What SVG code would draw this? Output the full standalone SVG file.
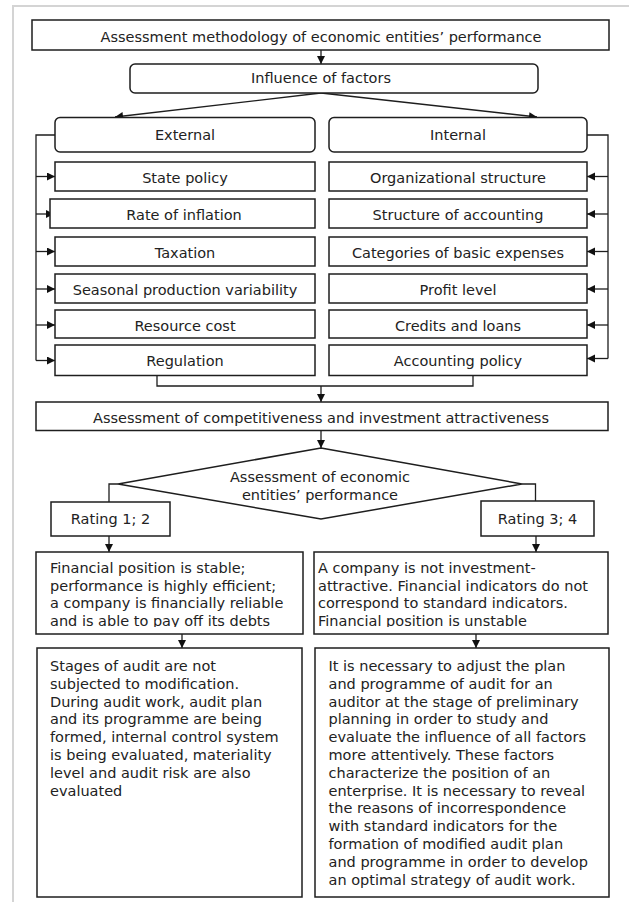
<svg xmlns="http://www.w3.org/2000/svg" width="629" height="902" viewBox="0 0 629 902">
<style>
.box{fill:#fff;stroke:#1e1e1e;stroke-width:1.5}
.t{font-family:"DejaVu Sans",Verdana,sans-serif;font-size:14.5px;fill:#222}
.c{text-anchor:middle}
.ln{fill:none;stroke:#1e1e1e;stroke-width:1.3}
.frame{fill:none;stroke:#d4d4d4;stroke-width:2}
</style>
<defs>
<marker id="ah" markerUnits="userSpaceOnUse" markerWidth="9" markerHeight="9" refX="8" refY="4" orient="auto">
<path d="M0,0 L8,4 L0,8 z" fill="#111"/>
</marker>
<clipPath id="clipL"><rect x="37" y="553" width="265" height="74"/></clipPath>
<clipPath id="clipR"><rect x="315" y="553" width="292" height="74"/></clipPath>
</defs>
<path class="frame" d="M13,902 L13,6 L629,6"/>

<g id="connectors">
<line class="ln" x1="321" y1="50" x2="321" y2="64" marker-end="url(#ah)"/>
<line class="ln" x1="321" y1="93" x2="115" y2="117" marker-end="url(#ah)"/>
<line class="ln" x1="321" y1="93" x2="537" y2="117" marker-end="url(#ah)"/>
<path class="ln" d="M55,135 L36,135 L36,360.5"/>
<line class="ln" x1="36" y1="176.5" x2="55" y2="176.5" marker-end="url(#ah)"/>
<line class="ln" x1="36" y1="214" x2="54" y2="214" marker-end="url(#ah)"/>
<line class="ln" x1="36" y1="251.5" x2="55" y2="251.5" marker-end="url(#ah)"/>
<line class="ln" x1="36" y1="289" x2="55" y2="289" marker-end="url(#ah)"/>
<line class="ln" x1="36" y1="325" x2="55" y2="325" marker-end="url(#ah)"/>
<line class="ln" x1="36" y1="360.5" x2="55" y2="360.5" marker-end="url(#ah)"/>
<path class="ln" d="M587,135 L608,135 L608,358.5"/>
<line class="ln" x1="608" y1="176.5" x2="587" y2="176.5" marker-end="url(#ah)"/>
<line class="ln" x1="608" y1="214" x2="587" y2="214" marker-end="url(#ah)"/>
<line class="ln" x1="608" y1="251.5" x2="587" y2="251.5" marker-end="url(#ah)"/>
<line class="ln" x1="608" y1="289" x2="587" y2="289" marker-end="url(#ah)"/>
<line class="ln" x1="608" y1="325" x2="587" y2="325" marker-end="url(#ah)"/>
<line class="ln" x1="608" y1="358.5" x2="587" y2="358.5" marker-end="url(#ah)"/>
<path class="ln" d="M157,375.5 L157,386 L473,386 L473,375.5"/>
<line class="ln" x1="321" y1="386" x2="321" y2="402" marker-end="url(#ah)"/>
<line class="ln" x1="321" y1="430.5" x2="321" y2="448" marker-end="url(#ah)"/>
<path class="ln" d="M118,484 L109,484 L109,502"/>
<path class="ln" d="M522,484 L535.5,484 L535.5,501"/>
<line class="ln" x1="109" y1="536" x2="109" y2="552" marker-end="url(#ah)"/>
<line class="ln" x1="536" y1="536" x2="536" y2="552" marker-end="url(#ah)"/>
<line class="ln" x1="182" y1="634" x2="182" y2="648" marker-end="url(#ah)"/>
<line class="ln" x1="476" y1="634" x2="476" y2="648" marker-end="url(#ah)"/>
</g>

<g id="n-method"><rect class="box" x="32" y="20" width="577" height="30"/><text class="t c" x="321" y="41.5">Assessment methodology of economic entities’ performance</text></g>
<g id="n-influence"><rect class="box" x="130" y="64" width="408" height="29" rx="5"/><text class="t c" x="321" y="82.5">Influence of factors</text></g>

<g id="n-external"><rect class="box" x="55" y="117.5" width="260" height="34.5" rx="5"/><text class="t c" x="185" y="140">External</text></g>
<g id="n-internal"><rect class="box" x="329" y="117.5" width="258" height="34.5" rx="5"/><text class="t c" x="458" y="140">Internal</text></g>

<g id="n-state"><rect class="box" x="55" y="162" width="260" height="29"/><text class="t c" x="185" y="183">State policy</text></g>
<g id="n-inflation"><rect class="box" x="50" y="199" width="265" height="29"/><text class="t c" x="184" y="220">Rate of inflation</text></g>
<g id="n-taxation"><rect class="box" x="55" y="237" width="260" height="29"/><text class="t c" x="185" y="257.5">Taxation</text></g>
<g id="n-seasonal"><rect class="box" x="55" y="274" width="260" height="29"/><text class="t c" x="185" y="295">Seasonal production variability</text></g>
<g id="n-resource"><rect class="box" x="55" y="310" width="260" height="28"/><text class="t c" x="185" y="331">Resource cost</text></g>
<g id="n-regulation"><rect class="box" x="55" y="345" width="260" height="30.5"/><text class="t c" x="185" y="365.5">Regulation</text></g>

<g id="n-org"><rect class="box" x="329" y="162" width="258" height="29"/><text class="t c" x="458" y="183">Organizational structure</text></g>
<g id="n-structacc"><rect class="box" x="329" y="199" width="258" height="29"/><text class="t c" x="458" y="220">Structure of accounting</text></g>
<g id="n-categories"><rect class="box" x="329" y="237" width="258" height="29"/><text class="t c" x="458" y="257.5">Categories of basic expenses</text></g>
<g id="n-profit"><rect class="box" x="329" y="274" width="258" height="29"/><text class="t c" x="458" y="295">Profit level</text></g>
<g id="n-credits"><rect class="box" x="329" y="310" width="258" height="28"/><text class="t c" x="458" y="331">Credits and loans</text></g>
<g id="n-policy"><rect class="box" x="329" y="345" width="258" height="30.5"/><text class="t c" x="458" y="365.5">Accounting policy</text></g>

<g id="n-competitiveness"><rect class="box" x="36" y="402" width="572" height="28.5"/><text class="t c" x="321" y="423">Assessment of competitiveness and investment attractiveness</text></g>

<g id="n-decision"><polygon class="box" points="321,448 522,484 321,519 118,484"/><text class="t c" x="320" y="482">Assessment of economic</text><text class="t c" x="320" y="500">entities’ performance</text></g>

<g id="n-rating12"><rect class="box" x="51" y="502" width="119" height="34"/><text class="t c" x="110.5" y="524">Rating 1; 2</text></g>
<g id="n-rating34"><rect class="box" x="481" y="501" width="113" height="35"/><text class="t c" x="537.5" y="524">Rating 3; 4</text></g>

<g id="n-stable"><rect class="box" x="36" y="552" width="267" height="82"/>
<g clip-path="url(#clipL)" class="t">
<text x="50" y="573.3">Financial position is stable;</text>
<text x="50" y="590.7">performance is highly efficient;</text>
<text x="50" y="608.2">a company is financially reliable</text>
<text x="50" y="625.7">and is able to pay off its debts</text>
</g></g>

<g id="n-unstable"><rect class="box" x="314" y="552" width="294" height="82"/>
<g clip-path="url(#clipR)" class="t">
<text x="318" y="573.3">A company is not investment-</text>
<text x="318" y="590.7">attractive. Financial indicators do not</text>
<text x="318" y="608.2">correspond to standard indicators.</text>
<text x="318" y="625.7">Financial position is unstable</text>
</g></g>

<g id="n-audit-standard"><rect class="box" x="37" y="648" width="265" height="249"/>
<text class="t" x="50" y="671">Stages of audit are not</text>
<text class="t" x="50" y="688.8">subjected to modification.</text>
<text class="t" x="50" y="706.6">During audit work, audit plan</text>
<text class="t" x="50" y="724.4">and its programme are being</text>
<text class="t" x="50" y="742.2">formed, internal control system</text>
<text class="t" x="50" y="760">is being evaluated, materiality</text>
<text class="t" x="50" y="777.8">level and audit risk are also</text>
<text class="t" x="50" y="795.6">evaluated</text>
</g>

<g id="n-audit-modified"><rect class="box" x="315" y="648" width="294" height="249"/>
<text class="t" x="328.5" y="671">It is necessary to adjust the plan</text>
<text class="t" x="328.5" y="688.8">and programme of audit for an</text>
<text class="t" x="328.5" y="706.6">auditor at the stage of preliminary</text>
<text class="t" x="328.5" y="724.4">planning in order to study and</text>
<text class="t" x="328.5" y="742.2">evaluate the influence of all factors</text>
<text class="t" x="328.5" y="760">more attentively. These factors</text>
<text class="t" x="328.5" y="777.8">characterize the position of an</text>
<text class="t" x="328.5" y="795.6">enterprise. It is necessary to reveal</text>
<text class="t" x="328.5" y="813.4">the reasons of incorrespondence</text>
<text class="t" x="328.5" y="831.2">with standard indicators for the</text>
<text class="t" x="328.5" y="849">formation of modified audit plan</text>
<text class="t" x="328.5" y="866.8">and programme in order to develop</text>
<text class="t" x="328.5" y="884.6">an optimal strategy of audit work.</text>
</g>
</svg>
